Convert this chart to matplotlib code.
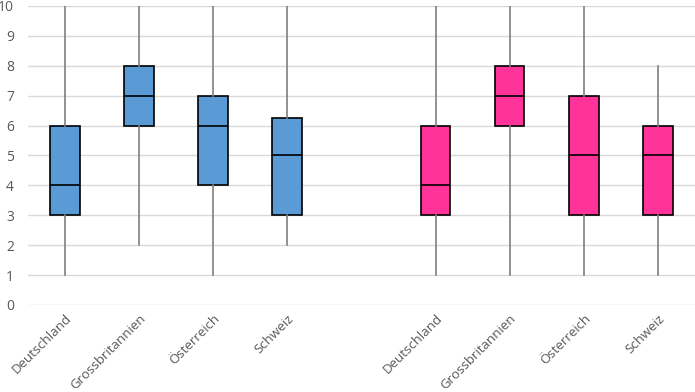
import matplotlib
matplotlib.use("Agg")
import matplotlib.pyplot as plt

countries = ["Deutschland", "Grossbritannien", "Österreich", "Schweiz"]
# group 1 (blue)
g1_min = [1, 2, 1, 2]
g1_q1 = [3, 6, 4, 3]
g1_med = [4, 7, 6, 5]
g1_q3 = [6, 8, 7, 6.25]
g1_max = [10, 10, 10, 10]
# group 2 (pink)
g2_min = [1, 1, 1, 1]
g2_q1 = [3, 6, 3, 3]
g2_med = [4, 7, 5, 5]
g2_q3 = [6, 8, 7, 6]
g2_max = [10, 10, 10, 8]

yticks = list(range(0, 11))

plt.rcParams['font.family'] = ['Open Sans', 'DejaVu Sans']

fig = plt.figure(figsize=(6.95, 3.92), dpi=100)
ax = fig.add_axes([0.04, 0.222, 0.96, 0.763])

def stats(mn, q1, med, q3, mx):
    return [dict(whislo=a, q1=b, med=c, q3=d, whishi=e, fliers=[])
            for a, b, c, d, e in zip(mn, q1, med, q3, mx)]

pos1 = [0, 1, 2, 3]
pos2 = [5, 6, 7, 8]
for st, pos, col in [(stats(g1_min, g1_q1, g1_med, g1_q3, g1_max), pos1, '#5B9BD5'),
                     (stats(g2_min, g2_q1, g2_med, g2_q3, g2_max), pos2, '#FF3399')]:
    ax.bxp(st, positions=pos, widths=0.4, patch_artist=True, showcaps=False,
           showfliers=False,
           boxprops=dict(facecolor=col, edgecolor='black', linewidth=1.2),
           medianprops=dict(color='black', linewidth=1.2),
           whiskerprops=dict(color='#7F7F7F', linewidth=1.2),
           zorder=3)

ax.set_xlim(-0.5, 8.5)
ax.set_ylim(0, 10)
ax.set_yticks(yticks)
ax.set_yticklabels([str(t) for t in yticks])
ax.yaxis.grid(True, color='#D9D9D9', linewidth=1.0, zorder=0)
ax.set_axisbelow(True)
for s in ax.spines.values():
    s.set_visible(False)
ax.tick_params(axis='both', length=0, colors='#595959', labelsize=10)
ax.tick_params(axis='y', pad=10)
ax.set_xticks(pos1 + pos2)
ax.set_xticklabels(countries + countries, rotation=45, ha='right', va='top',
                   rotation_mode='anchor', fontsize=9.5)
ax.tick_params(axis='x', pad=5)

fig.savefig("out.png", dpi=100)
